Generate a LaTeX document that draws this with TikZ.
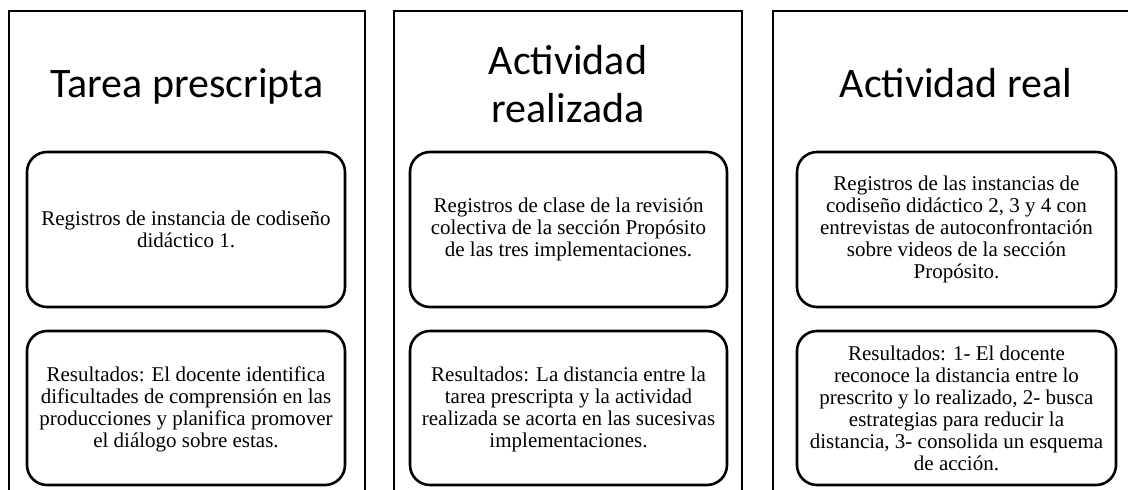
\documentclass[tikz,border=0pt]{standalone}
\usepackage{fontspec}
\setmainfont{Liberation Serif}
\newfontfamily\titlefont{Carlito}
\begin{document}
\begin{tikzpicture}[x=1pt,y=-1pt,
  outerbox/.style={draw=black,line width=2pt},
  innerbox/.style={draw=black,line width=2.6pt,rounded corners=20pt},
  titletext/.style={font=\titlefont\fontsize{42}{48}\selectfont,align=center,inner sep=0pt},
  bodytext/.style={font=\fontsize{21}{22}\selectfont,align=center,inner sep=0pt}]
\useasboundingbox (0,0) rectangle (1128,490);
\clip (0,0) rectangle (1128,490);
% outer columns
\draw[outerbox] (9,520) -- (9,11) -- (365,11) -- (365,520);
\draw[outerbox] (394,520) -- (394,11) -- (742,11) -- (742,520);
\draw[outerbox] (773,520) -- (773,11) -- (1140,11);
% titles
\node[titletext,anchor=base] (t1) at (187,97) {Tarea prescripta};
\node[titletext,anchor=base] (t2) at (568,122) {Actividad\\realizada};
\node[titletext,anchor=base] (t3) at (956,97) {Actividad real};
% inner boxes
\draw[innerbox] (27,152) rectangle (345,307);
\draw[innerbox] (27,331) rectangle (345,485);
\draw[innerbox] (410,152) rectangle (727,307);
\draw[innerbox] (410,331) rectangle (727,485);
\draw[innerbox] (797,152) rectangle (1116,307);
\draw[innerbox] (797,331) rectangle (1116,485);
% texts
\node[bodytext] (a1) at (186,229.5) {Registros de instancia de codiseño\\didáctico 1.};
\node[bodytext] (a2) at (186,409) {Resultados: El docente identifica\\dificultades de comprensión en las\\producciones y planifica promover\\el diálogo sobre estas.};
\node[bodytext] (b1) at (568.5,229.5) {Registros de clase de la revisión\\colectiva de la sección Propósito\\de las tres implementaciones.};
\node[bodytext] (b2) at (568.5,409) {Resultados: La distancia entre la\\tarea prescripta y la actividad\\realizada se acorta en las sucesivas\\implementaciones.};
\node[bodytext] (c1) at (956.5,229.5) {Registros de las instancias de\\codiseño didáctico 2, 3 y 4 con\\entrevistas de autoconfrontación\\sobre videos de la sección\\Propósito.};
\node[bodytext] (c2) at (956.5,408) {Resultados: 1- El docente\\reconoce la distancia entre lo\\prescrito y lo realizado, 2- busca\\estrategias para reducir la\\distancia, 3- consolida un esquema\\de acción.};
\end{tikzpicture}
\end{document}
